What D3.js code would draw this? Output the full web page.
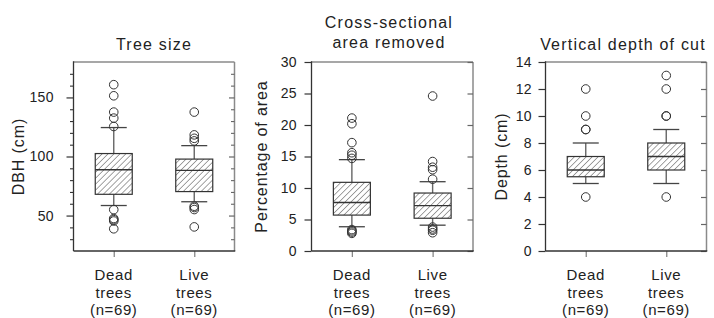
<!DOCTYPE html>
<html><head><meta charset="utf-8">
<script src="https://cdn.jsdelivr.net/npm/d3@7"></script>
<style>
body{margin:0;background:#fff}
text{font-family:"Liberation Sans",Arial,sans-serif;fill:#222}
</style>
</head><body><svg id="c" width="714" height="318"></svg>
<script>
const categories = ["Dead trees", "Live trees"];
const categoryLines = [["Dead", "trees", "(n=69)"], ["Live", "trees", "(n=69)"]];
const panelTitles = [["Tree size"], ["Cross-sectional", "area removed"], ["Vertical depth of cut"]];
const axisTitles = ["DBH (cm)", "Percentage of area", "Depth (cm)"];

// box stats per category: [lower whisker, q1, median, q3, upper whisker]
const dbhBoxes = [[58.5, 68, 88.8, 102.5, 124.5], [61.7, 70.3, 88.3, 97.8, 109.2]];
const dbhOutliers = [[160.8, 151.4, 137.6, 132.5, 125.4, 55, 47.5, 46.5, 45.4, 38.8],
                     [137.6, 118.3, 115.4, 113.2, 57.9, 56.8, 55.1, 40.4]];
const dbhTicks = [50, 100, 150];
const dbhMinorTicks = [30, 40, 60, 70, 80, 90, 110, 120, 130, 140, 160, 170];

const areaBoxes = [[3.85, 5.7, 7.7, 10.9, 14.5], [4.1, 5.2, 7.2, 9.2, 11.0]];
const areaOutliers = [[21.1, 20.2, 17.2, 15.6, 15.2, 14.7, 3.4, 3.2, 3.0, 2.8],
                      [24.6, 14.2, 13.3, 12.9, 11.4, 3.8, 3.5, 3.3, 2.9]];
const areaTicks = [0, 5, 10, 15, 20, 25, 30];

const depthBoxes = [[5, 5.5, 6, 7, 8], [5, 6, 7, 8, 9]];
const depthOutliers = [[4, 9, 9, 10, 12], [4, 10, 10, 12, 13]];
const depthTicks = [0, 2, 4, 6, 8, 10, 12, 14];

const svg = d3.select("#c");
const defs = svg.append("defs");
const pat = defs.append("pattern").attr("id", "hatch").attr("patternUnits", "userSpaceOnUse")
  .attr("width", 4.2).attr("height", 4.2).attr("patternTransform", "rotate(45)");
pat.append("line").attr("x1", 0).attr("y1", 0).attr("x2", 0).attr("y2", 4.2)
  .attr("stroke", "#333").attr("stroke-width", 0.9);

const TOP = 62, BOTTOM = 251;
const panels = [
  {left: 73.5, right: 234.5, domain: [20, 180], ticks: dbhTicks, minor: dbhMinorTicks, boxes: dbhBoxes, outliers: dbhOutliers,
   titleX: 154, titleY: [50], axisX: 18, tickLen: 7, labelEnd: 54},
  {left: 311.5, right: 473, domain: [0, 30], ticks: areaTicks, minor: [], boxes: areaBoxes, outliers: areaOutliers,
   titleX: 389, titleY: [28, 48], axisX: 261, tickLen: 7, labelEnd: 297},
  {left: 545.5, right: 706.5, domain: [0, 14], ticks: depthTicks, minor: [], boxes: depthBoxes, outliers: depthOutliers,
   titleX: 623, titleY: [50], axisX: 501, tickLen: 7, labelEnd: 532}
];

panels.forEach((p, i) => {
  const g = svg.append("g");
  const y = d3.scaleLinear().domain(p.domain).range([BOTTOM, TOP]);
  const x = d3.scalePoint().domain(categories).range([p.left, p.right]).padding(0.5);

  g.append("line").attr("x1", p.left).attr("x2", p.right).attr("y1", TOP).attr("y2", TOP)
    .attr("stroke", "#8a8a8a").attr("stroke-width", 1.5);
  g.append("line").attr("x1", p.right).attr("x2", p.right).attr("y1", TOP).attr("y2", BOTTOM)
    .attr("stroke", "#8a8a8a").attr("stroke-width", 1.5);

  const la = g.append("g").attr("transform", `translate(${p.left},0)`)
    .call(d3.axisLeft(y).tickValues(p.ticks).tickSize(p.tickLen)
      .tickPadding(p.left - p.labelEnd - p.tickLen).tickFormat(d3.format("d")));
  la.select(".domain").remove();
  la.selectAll(".tick line").attr("stroke", "#333").attr("stroke-width", 1.2);
  la.selectAll(".tick text").attr("font-size", 14).style("font-family", '"Liberation Sans",Arial,sans-serif')
    .attr("fill", "#222").style("letter-spacing", "0.4px");
  if (p.minor.length) {
    const lm = g.append("g").attr("transform", `translate(${p.left},0)`)
      .call(d3.axisLeft(y).tickValues(p.minor).tickSize(3.5).tickFormat(""));
    lm.select(".domain").remove();
    lm.selectAll(".tick line").attr("stroke", "#333").attr("stroke-width", 1.1);
  }
  const ra = g.append("g").attr("transform", `translate(${p.right},0)`)
    .call(d3.axisLeft(y).tickValues(p.ticks).tickSize(5.5).tickFormat(""));
  ra.select(".domain").remove();
  ra.selectAll(".tick line").attr("stroke", "#666").attr("stroke-width", 1.2);
  if (p.minor.length) {
    const rm = g.append("g").attr("transform", `translate(${p.right},0)`)
      .call(d3.axisLeft(y).tickValues(p.minor).tickSize(3.5).tickFormat(""));
    rm.select(".domain").remove();
    rm.selectAll(".tick line").attr("stroke", "#666").attr("stroke-width", 1.1);
  }
  const ba = g.append("g").attr("transform", `translate(0,${BOTTOM})`)
    .call(d3.axisBottom(x).tickSize(6).tickFormat(""));
  ba.select(".domain").remove();
  ba.selectAll(".tick line").attr("stroke", "#888").attr("stroke-width", 1.3);

  g.append("line").attr("x1", p.left).attr("x2", p.left).attr("y1", TOP - 0.75).attr("y2", BOTTOM)
    .attr("stroke", "#333").attr("stroke-width", 1.3);
  g.append("line").attr("x1", p.left).attr("x2", p.right + 0.75).attr("y1", BOTTOM).attr("y2", BOTTOM)
    .attr("stroke", "#333").attr("stroke-width", 1.3);

  categories.forEach((c, j) => {
    const t = g.append("text").attr("x", x(c)).attr("text-anchor", "middle")
      .attr("font-size", 15).style("letter-spacing", "0.6px");
    categoryLines[j].forEach((ln, k) => {
      t.append("tspan").attr("x", x(c)).attr("y", 280 + k * 17.7).text(ln);
    });
  });

  p.titleY.forEach((ty, k) => {
    g.append("text").attr("x", p.titleX).attr("y", ty).attr("text-anchor", "middle")
      .attr("font-size", 16).style("letter-spacing", "1.2px").text(panelTitles[i][k]);
  });
  g.append("text").attr("transform", `translate(${p.axisX + 5.5},${(TOP + BOTTOM) / 2}) rotate(-90)`)
    .attr("text-anchor", "middle").attr("font-size", 16).style("letter-spacing", "0.9px").text(axisTitles[i]);

  const bw = 37, cw = 26;
  categories.forEach((c, j) => {
    const [lo, q1, md, q3, hi] = p.boxes[j];
    const cx = x(c);
    g.append("line").attr("x1", cx).attr("x2", cx).attr("y1", y(q3)).attr("y2", y(hi)).attr("stroke", "#666").attr("stroke-width", 1.4);
    g.append("line").attr("x1", cx).attr("x2", cx).attr("y1", y(q1)).attr("y2", y(lo)).attr("stroke", "#666").attr("stroke-width", 1.4);
    g.append("line").attr("x1", cx - cw / 2).attr("x2", cx + cw / 2).attr("y1", y(hi)).attr("y2", y(hi)).attr("stroke", "#444").attr("stroke-width", 1.3);
    g.append("line").attr("x1", cx - cw / 2).attr("x2", cx + cw / 2).attr("y1", y(lo)).attr("y2", y(lo)).attr("stroke", "#444").attr("stroke-width", 1.3);
    g.append("rect").attr("x", cx - bw / 2).attr("y", y(q3)).attr("width", bw).attr("height", y(q1) - y(q3))
      .attr("fill", "url(#hatch)").attr("stroke", "#333").attr("stroke-width", 1.2);
    g.append("line").attr("x1", cx - bw / 2).attr("x2", cx + bw / 2).attr("y1", y(md)).attr("y2", y(md)).attr("stroke", "#333").attr("stroke-width", 1.3);
    g.selectAll(null).data(p.outliers[j]).enter().append("circle")
      .attr("cx", cx).attr("cy", d => y(d)).attr("r", 4.3)
      .attr("fill", "none").attr("stroke", "#333").attr("stroke-width", 1);
  });
});
</script>
</body></html>
